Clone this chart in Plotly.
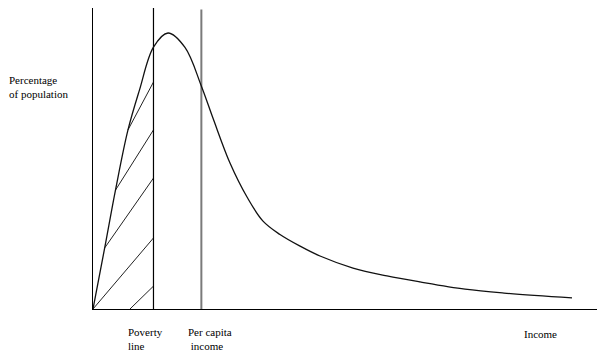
import plotly.graph_objects as go

# Income distribution curve (income units 0-100, percentage of population 0-100)
income = [0, 2.32, 4.46, 6.94, 9.23, 12.0, 14.88, 18.25, 21.49, 23.87, 27.18, 30.56,
          33.73, 37.10, 41.07, 45.04, 51.59, 58.33, 64.88, 73.81, 81.55, 95.04]
population = [0, 20.3, 39.5, 59.5, 72.8, 87.0, 91.7, 86.9, 74.1, 63.1, 48.5, 37.2,
              29.2, 24.75, 20.9, 17.6, 13.6, 11.0, 9.0, 6.6, 5.3, 3.7]

poverty_line = 12.0
per_capita_income = 21.5
line_top = 100

# Hatching below the curve, left of the poverty line: (x0, y0, x1, y1)
hatch_x0 = [6.94, 4.46, 2.32, 0.0, 7.34]
hatch_y0 = [59.5, 39.5, 20.3, 0.0, 0.0]
hatch_x1 = [12.0, 12.0, 12.0, 12.0, 12.0]
hatch_y1 = [75.4, 59.5, 43.5, 23.6, 7.6]

FONT = "Liberation Serif, Times New Roman, Times, serif"

fig = go.Figure()

# Hatch lines
for x0, y0, x1, y1 in zip(hatch_x0, hatch_y0, hatch_x1, hatch_y1):
    fig.add_trace(go.Scatter(x=[x0, x1], y=[y0, y1], mode="lines", cliponaxis=False,
                             line=dict(color="#222222", width=1), hoverinfo="skip"))

# Poverty line
fig.add_trace(go.Scatter(x=[poverty_line, poverty_line], y=[0, line_top], mode="lines",
                         cliponaxis=False,
                         line=dict(color="black", width=1.2), hoverinfo="skip"))
# Per capita income line
fig.add_trace(go.Scatter(x=[per_capita_income, per_capita_income], y=[0, line_top - 0.5],
                         mode="lines", cliponaxis=False,
                         line=dict(color="#7a7a7a", width=2), hoverinfo="skip"))

# Distribution curve
fig.add_trace(go.Scatter(x=income, y=population, mode="lines", cliponaxis=False,
                         line=dict(color="#111111", width=1.3, shape="spline", smoothing=1.0),
                         hoverinfo="skip"))

fig.update_layout(
    width=600, height=347,
    margin=dict(l=85, r=11, t=0, b=46, pad=0),
    paper_bgcolor="white", plot_bgcolor="white",
    showlegend=False,
    font=dict(family=FONT, size=11, color="black"),
    xaxis=dict(range=[0, 100], showgrid=False, zeroline=False, showticklabels=False,
               ticks="", showline=True, linecolor="black", linewidth=1.2),
    yaxis=dict(range=[0, 100], showgrid=False, zeroline=False, showticklabels=False,
               ticks="", showline=True, linecolor="black", linewidth=1.2),
)

ann = dict(showarrow=False, font=dict(family=FONT, size=11, color="black"),
           xref="paper", yref="paper", align="left", xanchor="left", yanchor="middle")
fig.add_annotation(text="Percentage<br>of population", x=-0.1706, y=0.736, **ann)
fig.add_annotation(text="Poverty<br>line", x=0.0655, y=-0.0997, **ann)
fig.add_annotation(text="Per capita<br>\u00a0income", x=0.1845, y=-0.0997, **ann)
fig.add_annotation(text="Income", x=0.887, y=-0.083, showarrow=False,
                   font=dict(family=FONT, size=11, color="black"),
                   xref="paper", yref="paper", xanchor="center", yanchor="middle")

fig.write_html("out.html")
